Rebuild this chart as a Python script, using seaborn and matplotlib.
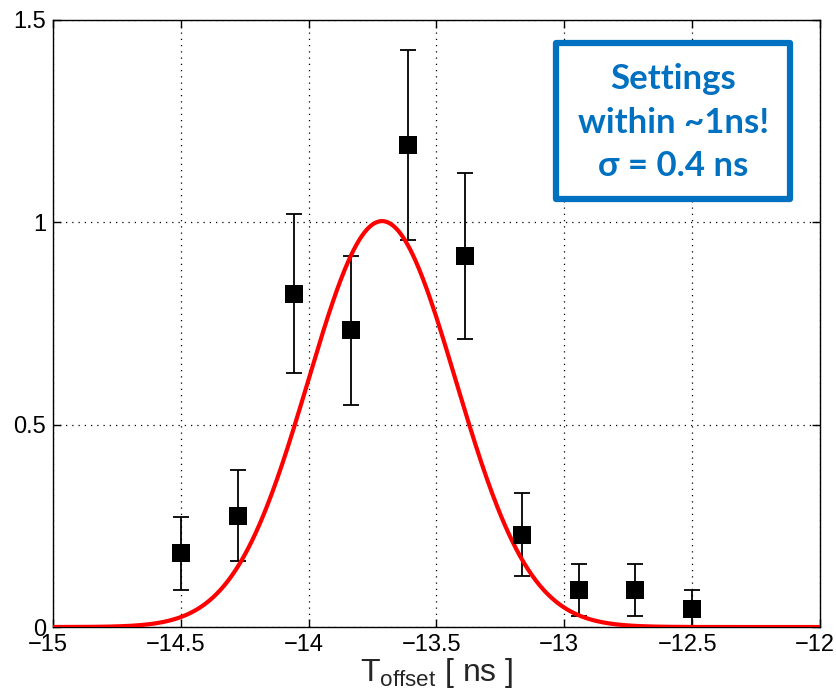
import numpy as np
import pandas as pd
import matplotlib
matplotlib.use("Agg")
import matplotlib.pyplot as plt
import matplotlib.transforms as mtransforms
from matplotlib.patches import Rectangle
import seaborn as sns

# ---- data ----
t_offset = [-14.5, -14.278, -14.056, -13.833, -13.611, -13.389, -13.167, -12.944, -12.722, -12.5]
counts = [0.182, 0.275, 0.824, 0.733, 1.191, 0.917, 0.228, 0.092, 0.092, 0.045]
errors = [0.090, 0.112, 0.196, 0.184, 0.234, 0.205, 0.103, 0.064, 0.064, 0.046]
fit_mu = -13.713
fit_sigma = 0.289
fit_amp = 1.003
x_ticks = [-15, -14.5, -14, -13.5, -13, -12.5, -12]
y_ticks = [0, 0.5, 1, 1.5]
y_ticklabels = ["0", "0.5", "1", "1.5"]
note_text = "Settings\nwithin ~1ns!\n\u03c3 = 0.4 ns"

sns.set_theme(style="white")
plt.rcParams['font.family'] = ['Liberation Sans', 'DejaVu Sans']
plt.rcParams['mathtext.fontset'] = 'custom'
plt.rcParams['mathtext.rm'] = 'Liberation Sans'

fig = plt.figure(figsize=(8.37, 6.96), dpi=100)
ax = fig.add_axes([0.0633, 0.0991, 0.9164, 0.8722])

xfit = np.linspace(-15, -12, 600)
fit_df = pd.DataFrame({"x": xfit,
                       "y": fit_amp * np.exp(-0.5 * ((xfit - fit_mu) / fit_sigma) ** 2)})
data_df = pd.DataFrame({"x": t_offset, "y": counts, "err": errors})

ax.errorbar(data_df["x"], data_df["y"], yerr=data_df["err"], fmt="none",
            ecolor="black", elinewidth=1.3, capsize=6, capthick=1.3, zorder=3)
sns.lineplot(data=fit_df, x="x", y="y", color="#ff0000", linewidth=3, ax=ax, zorder=4)
sns.scatterplot(data=data_df, x="x", y="y", marker="s", s=160, color="black",
                edgecolor="black", linewidth=0, ax=ax, zorder=5)

ax.set_xlim(-15, -12)
ax.set_ylim(0, 1.5)
ax.set_xticks(x_ticks)
ax.set_xticklabels([("%g" % v).replace("-", "\u2212") for v in x_ticks])
ax.set_yticks(y_ticks)
ax.set_yticklabels(y_ticklabels)
ax.tick_params(direction="in", length=6, width=1, colors="black", labelsize=17,
               top=True, right=True, bottom=True, left=True, pad=5)
shift = mtransforms.ScaledTranslation(-5 / 100, 0, fig.dpi_scale_trans)
for lbl in ax.get_xticklabels():
    lbl.set_transform(lbl.get_transform() + shift)
ax.grid(True, color="black", linestyle=(0, (1, 4)), linewidth=0.9)
for sp in ax.spines.values():
    sp.set_color("black")
    sp.set_linewidth(1)
ax.set_xlabel(r"$\mathregular{T_{offset}}$ [ ns ]", fontsize=23, labelpad=0)
ax.set_ylabel("")

box = Rectangle((0.656, 0.705), 0.305, 0.257, transform=ax.transAxes,
                facecolor="white", edgecolor="#0070c0", linewidth=4.5,
                joinstyle="round", zorder=10, clip_on=False)
ax.add_patch(box)
ax.text(0.8085, 0.831, note_text,
        transform=ax.transAxes, ha="center", va="center", fontsize=25,
        fontweight="bold", color="#0070c0", family=["Lato", "DejaVu Sans"],
        linespacing=1.45, zorder=11)

fig.savefig("out.png", dpi=100)
